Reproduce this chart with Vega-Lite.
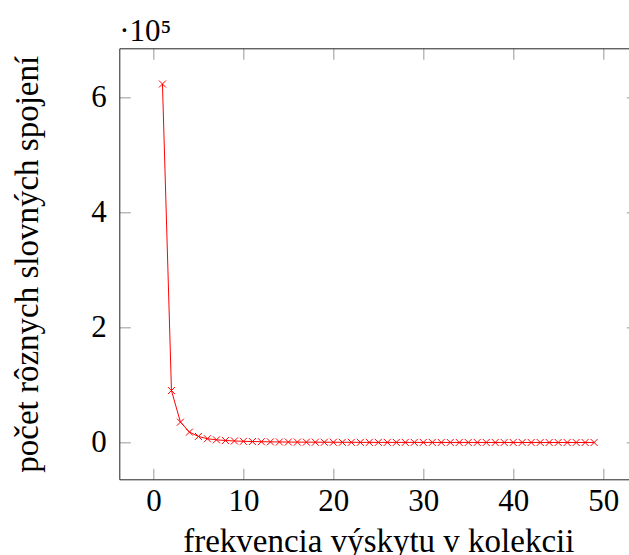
{
  "$schema": "https://vega.github.io/schema/vega-lite/v6.json",
  "autosize": "none",
  "padding": {"left": 119.3, "top": 48.3, "right": 0, "bottom": 76},
  "width": 518,
  "height": 431,
  "background": "white",
  "config": {
    "view": {"stroke": null},
    "font": "Liberation Serif",
    "axis": {"grid": false}
  },
  "title": {
    "text": "·10⁵",
    "anchor": "start",
    "frame": "group",
    "baseline": "alphabetic",
    "offset": 8,
    "dy": 32,
    "font": "Liberation Serif",
    "fontSize": 31,
    "fontWeight": "normal",
    "color": "black"
  },
  "data": {
    "values": [
      {"f": 1, "n": 623800}, {"f": 2, "n": 90400}, {"f": 3, "n": 35500}, {"f": 4, "n": 18100},
      {"f": 5, "n": 10600}, {"f": 6, "n": 6600}, {"f": 7, "n": 4700}, {"f": 8, "n": 3500},
      {"f": 9, "n": 2700}, {"f": 10, "n": 2100}, {"f": 11, "n": 1700}, {"f": 12, "n": 1400},
      {"f": 13, "n": 1150}, {"f": 14, "n": 980}, {"f": 15, "n": 830}, {"f": 16, "n": 710},
      {"f": 17, "n": 620}, {"f": 18, "n": 540}, {"f": 19, "n": 475}, {"f": 20, "n": 420},
      {"f": 21, "n": 375}, {"f": 22, "n": 335}, {"f": 23, "n": 300}, {"f": 24, "n": 270},
      {"f": 25, "n": 245}, {"f": 26, "n": 222}, {"f": 27, "n": 203}, {"f": 28, "n": 186},
      {"f": 29, "n": 171}, {"f": 30, "n": 157}, {"f": 31, "n": 145}, {"f": 32, "n": 134},
      {"f": 33, "n": 125}, {"f": 34, "n": 116}, {"f": 35, "n": 108}, {"f": 36, "n": 101},
      {"f": 37, "n": 95}, {"f": 38, "n": 89}, {"f": 39, "n": 83}, {"f": 40, "n": 78},
      {"f": 41, "n": 74}, {"f": 42, "n": 70}, {"f": 43, "n": 66}, {"f": 44, "n": 62},
      {"f": 45, "n": 59}, {"f": 46, "n": 56}, {"f": 47, "n": 53}, {"f": 48, "n": 50},
      {"f": 49, "n": 48}
    ]
  },
  "resolve": {"axis": {"x": "independent", "y": "independent"}},
  "layer": [
    {
      "mark": {"type": "line", "stroke": "red", "strokeWidth": 1},
      "encoding": {
        "x": {
          "field": "f", "type": "quantitative",
          "scale": {"domain": [-3.8, 53.8], "nice": false, "zero": false},
          "axis": {
            "orient": "bottom",
            "values": [0, 10, 20, 30, 40, 50],
            "title": "frekvencia výskytu v kolekcii",
            "titleFont": "Liberation Serif",
            "titleFontSize": 33,
            "titleFontWeight": "normal",
            "titleColor": "black",
            "titlePadding": 9,
            "labelFont": "Liberation Serif",
            "labelFontSize": 31,
            "labelColor": "black",
            "labelPadding": 18,
            "labelFlush": false,
            "tickSize": -11,
            "tickColor": "#aaaaaa",
            "tickWidth": 1.2,
            "domainColor": "#222222",
            "domainWidth": 1
          }
        },
        "y": {
          "field": "n", "type": "quantitative",
          "scale": {"domain": [-64000, 686000], "nice": false, "zero": false},
          "axis": {
            "orient": "left",
            "values": [0, 200000, 400000, 600000],
            "labelExpr": "format(datum.value / 100000, 'd')",
            "title": "počet rôznych slovných spojení",
            "titleFont": "Liberation Serif",
            "titleFontSize": 33,
            "titleFontWeight": "normal",
            "titleColor": "black",
            "titlePadding": 46,
            "labelFont": "Liberation Serif",
            "labelFontSize": 31,
            "labelColor": "black",
            "labelPadding": 24,
            "labelFlush": false,
            "tickSize": -11,
            "tickColor": "#aaaaaa",
            "tickWidth": 1.2,
            "domainColor": "#222222",
            "domainWidth": 1
          }
        }
      }
    },
    {
      "mark": {
        "type": "point",
        "shape": "M-1,-1L1,1M-1,1L1,-1",
        "filled": false,
        "stroke": "#ff0000",
        "fill": "transparent",
        "strokeWidth": 1,
        "size": 49,
        "opacity": 1,
        "strokeOpacity": 1
      },
      "encoding": {
        "x": {
          "field": "f", "type": "quantitative",
          "scale": {"domain": [-3.8, 53.8], "nice": false, "zero": false},
          "axis": {
            "orient": "top",
            "values": [0, 10, 20, 30, 40, 50],
            "labels": false,
            "title": null,
            "tickSize": -11,
            "tickColor": "#aaaaaa",
            "tickWidth": 1.2,
            "domainColor": "#222222",
            "domainWidth": 1
          }
        },
        "y": {
          "field": "n", "type": "quantitative",
          "scale": {"domain": [-64000, 686000], "nice": false, "zero": false},
          "axis": {
            "orient": "right",
            "values": [0, 200000, 400000, 600000],
            "labels": false,
            "title": null,
            "tickSize": -11,
            "tickColor": "#aaaaaa",
            "tickWidth": 1.2,
            "domainColor": "#222222",
            "domainWidth": 1
          }
        }
      }
    }
  ]
}
